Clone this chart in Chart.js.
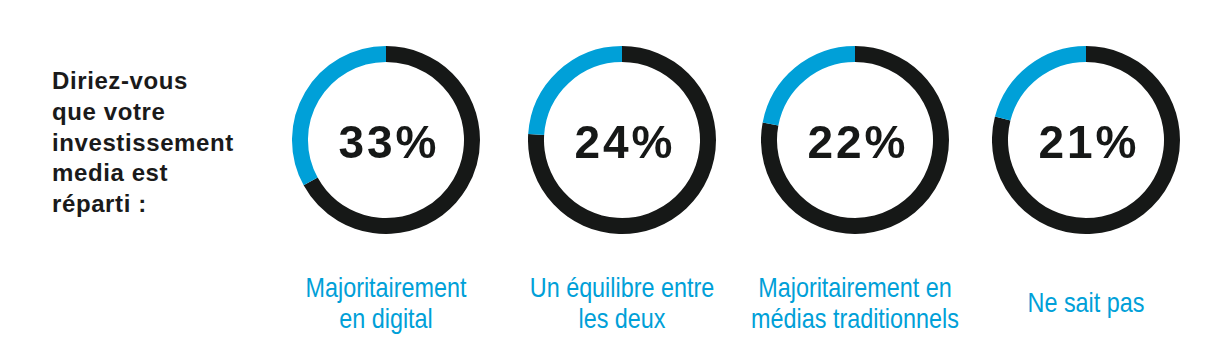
<!DOCTYPE html>
<html>
<head>
<meta charset="utf-8">
<script src="https://cdn.jsdelivr.net/npm/chart.js"></script>
<style>
  body { margin: 0; background: #fff; }
  #wrap { position: relative; width: 1208px; height: 352px; overflow: hidden; background: #fff; }
  #question {
    position: absolute; left: 52px; top: 66px;
    font-family: "Liberation Sans", Arial, sans-serif; font-weight: bold;
    font-size: 24px; line-height: 30.8px; letter-spacing: 0.6px; color: #1a1a1a;
  }
  .ring { position: absolute; top: 46px; width: 188px; height: 188px; }
  .pct {
    position: absolute; top: 119px; width: 200px; text-align: center;
    font-family: "Liberation Sans", Arial, sans-serif; font-weight: bold;
    font-size: 46px; line-height: 46px; letter-spacing: 3px; padding-left: 3px; color: #161817;
  }
  .lbl {
    position: absolute; width: 300px; text-align: center;
    font-family: "Liberation Sans", Arial, sans-serif;
    font-size: 28.5px; line-height: 31px; color: #00a0d8;
    transform: scaleX(0.82); transform-origin: 50% 50%;
  }
</style>
</head>
<body>
<div id="wrap">
  <div id="question">Diriez-vous<br>que votre<br>investissement<br>media est<br>réparti :</div>
</div>
<script>
// réponses
var categories = [
  ['Majoritairement', 'en digital'],
  ['Un équilibre entre', 'les deux'],
  ['Majoritairement en', 'médias traditionnels'],
  ['Ne sait pas']
];
var values = [33, 24, 22, 21];
var blue = '#00a0d8';
var dark = '#161817';

var centersX = [386, 622, 855, 1086];
var wrap = document.getElementById('wrap');

for (var i = 0; i < values.length; i++) {
  var cx = centersX[i];

  var c = document.createElement('canvas');
  c.className = 'ring';
  c.width = 188; c.height = 188;
  c.style.left = (cx - 94) + 'px';
  wrap.appendChild(c);

  new Chart(c, {
    type: 'doughnut',
    data: {
      labels: ['Autre', categories[i].join(' ')],
      datasets: [{
        data: [100 - values[i], values[i]],
        backgroundColor: [dark, blue],
        borderWidth: 0
      }]
    },
    options: {
      responsive: false,
      animation: false,
      cutout: '83%',
      rotation: 0,
      layout: { padding: 0 },
      plugins: { legend: { display: false }, tooltip: { enabled: false } }
    }
  });

  var p = document.createElement('div');
  p.className = 'pct';
  p.style.left = (cx - 100) + 'px';
  p.textContent = values[i] + '%';
  wrap.appendChild(p);

  var l = document.createElement('div');
  l.className = 'lbl';
  l.style.left = (cx - 150) + 'px';
  l.style.top = categories[i].length > 1 ? '272px' : '287px';
  l.innerHTML = categories[i].join('<br>');
  wrap.appendChild(l);
}
</script>
</body>
</html>
